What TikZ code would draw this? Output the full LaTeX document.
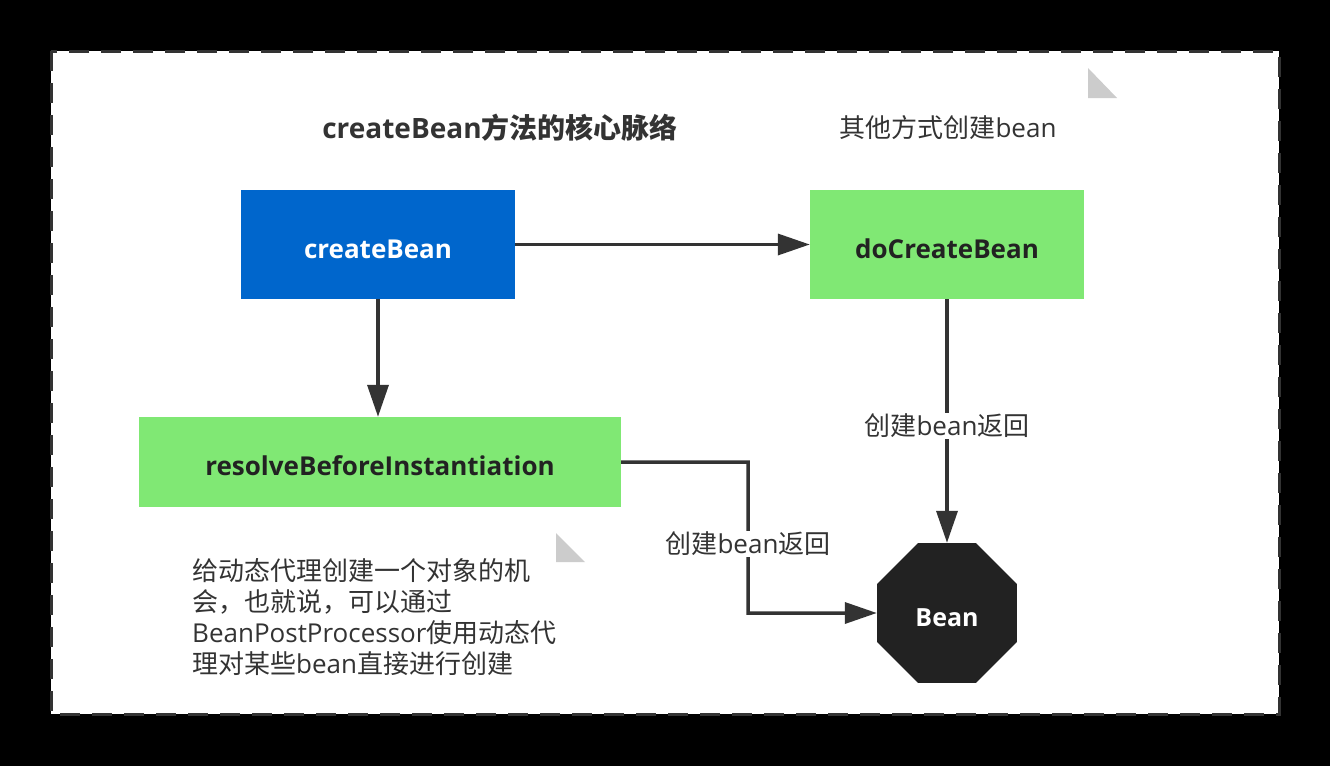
\documentclass[tikz,border=0pt]{standalone}
\usepackage{fontspec}
\setmainfont{Open Sans}
\newfontfamily\zhfont{Noto Sans CJK SC}
\newcommand{\zhs}[1]{{\zhfont #1}}
\usetikzlibrary{shapes.geometric,arrows.meta}
\definecolor{dk}{HTML}{333333}
\definecolor{blu}{HTML}{0066CC}
\definecolor{grn}{HTML}{80E874}
\definecolor{oct}{HTML}{222222}
\definecolor{tri}{HTML}{CCCCCC}
\tikzset{
  boxb/.style={rectangle, fill=blu, text=white, font=\fontsize{26}{31}\selectfont\bfseries, inner sep=0pt, text height=27pt, text depth=0pt},
  boxg/.style={rectangle, fill=grn, text=oct, font=\fontsize{26}{31}\selectfont\bfseries, inner sep=0pt, text height=27pt, text depth=0pt},
  conn/.style={draw=dk, line width=3.5pt, -{Triangle[length=32pt,width=21pt]}},
  lbl/.style={fill=white, text=dk, font=\fontsize{26}{31}\selectfont, inner sep=1pt},
  txt/.style={text=dk, font=\fontsize{26}{31}\selectfont, inner sep=0pt},
}
\begin{document}
\begin{tikzpicture}[x=1pt,y=-1pt]
\useasboundingbox (0,0) rectangle (1330,766);
\fill[black] (0,0) rectangle (1330,766);
\draw[fill=white, draw=dk, line width=3pt, dash pattern=on 20pt off 12pt] (51,51) rectangle (1279,714);
% corner triangles
\fill[tri] (1088,68) -- (1088,98) -- (1117,98) -- cycle;
\fill[tri] (556,533) -- (556,562) -- (585,562) -- cycle;
% titles
\node[txt, font=\fontsize{28}{33}\selectfont\bfseries] (title) at (500,128) {createBean\zhs{方法的核心脉络}};
\node[txt] (other) at (948,128) {\zhs{其他方式创建}bean};
% boxes
\node[boxb, minimum width=274pt, minimum height=109pt] (cb) at (378,244.5) {createBean};
\node[boxg, minimum width=274pt, minimum height=109pt] (dcb) at (947,244.5) {doCreateBean};
\node[boxg, minimum width=482pt, minimum height=90pt] (rbi) at (380,462) {resolveBeforeInstantiation};
\node[regular polygon, regular polygon sides=8, minimum size=151.5pt, inner sep=0pt, fill=oct, text=white, font=\fontsize{25}{30}\selectfont\bfseries, text height=26pt, text depth=0pt] (bean) at (947,613) {Bean};
% note
\node[txt, anchor=north west, align=left, font=\fontsize{26}{31.2}\selectfont] (note) at (192,558) {\zhs{给动态代理创建一个对象的机}\\\zhs{会，也就说，可以通过}\\BeanPostProcessor\zhs{使用动态代}\\\zhs{理对某些}bean\zhs{直接进行创建}};
% connectors
\draw[conn] (cb.east) -- (dcb.west);
\draw[conn] (cb.south) -- (cb.south |- rbi.north);
\draw[conn] (dcb.south) -- node[lbl, pos=0.52] {\zhs{创建}bean\zhs{返回}} (dcb.south |- bean.north);
\coordinate (bend1) at (748,462);
\coordinate (bend2) at (748,613);
\draw[conn] (rbi.east) -- (bend1) -- node[lbl, pos=0.54] {\zhs{创建}bean\zhs{返回}} (bend2) -- (bean.west);
\end{tikzpicture}
\end{document}
